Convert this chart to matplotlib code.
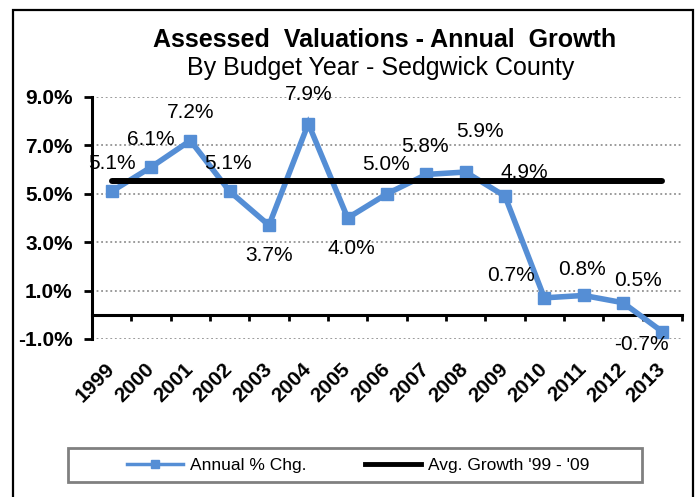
import matplotlib
matplotlib.use("Agg")
import matplotlib.pyplot as plt
from matplotlib.lines import Line2D
from matplotlib.patches import Rectangle

plt.rcParams["font.family"] = ["Liberation Sans", "DejaVu Sans"]

# ─── Data ─────────────────────────────────────────────────────────────────────
YEARS = ["1999", "2000", "2001", "2002", "2003", "2004", "2005", "2006",
         "2007", "2008", "2009", "2010", "2011", "2012", "2013"]
ANNUAL_CHG = [5.1, 6.1, 7.2, 5.1, 3.7, 7.9, 4.0, 5.0, 5.8, 5.9, 4.9, 0.7, 0.8, 0.5, -0.7]
AVG_GROWTH = 5.52   # average '99 - '09
YTICKS = [-1, 1, 3, 5, 7, 9]

# label offsets in points (dx, dy) to mimic Excel's placement
LABEL_OFFSETS = [(0, 20), (0, 20), (0, 20), (-1, 20), (0, -22), (0, 21), (3, -22),
                 (-1, 21), (-1, 20), (10, 29), (14, 17), (-24, 16), (-1, 19),
                 (11, 16), (-15, -9)]

BLUE = "#558ED5"

fig = plt.figure(figsize=(6.96, 4.97), dpi=100)
ax = fig.add_axes([92 / 696, (497 - 339) / 497, 590 / 696, 242 / 497])

x = list(range(len(YEARS)))
ax.plot(x, ANNUAL_CHG, color=BLUE, lw=4, marker="s", markersize=9,
        solid_joinstyle="miter", zorder=3)
ax.plot([x[0], x[-1]], [AVG_GROWTH, AVG_GROWTH], color="black", lw=4.3,
        solid_capstyle="round", zorder=4)

for xi, v, (dx, dy) in zip(x, ANNUAL_CHG, LABEL_OFFSETS):
    ax.annotate(f"{v:.1f}%", xy=(xi, v), xytext=(dx, dy), textcoords="offset points",
                ha="center", va="center", fontsize=15, zorder=5)

ax.set_xlim(-0.5, len(YEARS) - 0.5)
ax.set_ylim(-1, 9)
ax.set_yticks(YTICKS)
ax.set_yticklabels([f"{t:.1f}%" for t in YTICKS], fontsize=15, fontweight="bold")
ax.yaxis.grid(True, color="#808080", linestyle=(0, (1.2, 1.8)), lw=1.1)
ax.set_axisbelow(True)

for s in ["top", "right"]:
    ax.spines[s].set_visible(False)
ax.spines["left"].set_linewidth(2.2)
ax.spines["bottom"].set_position(("data", 0))
ax.spines["bottom"].set_linewidth(2.2)
ax.tick_params(axis="y", length=6, width=2, pad=8)

ax.set_xticks(x)
ax.set_xticks([i + 0.5 for i in x], minor=True)
ax.tick_params(axis="x", which="major", length=0, pad=37)
ax.tick_params(axis="x", which="minor", length=4.5, width=2, direction="out")
ax.set_xticklabels(YEARS, fontsize=15, fontweight="bold")
for lbl in ax.get_xticklabels():
    lbl.set_rotation(45)
    lbl.set_ha("right")
    lbl.set_va("center")
    lbl.set_rotation_mode("anchor")

# titles
fig.text(0.553, 1 - 47 / 497, "Assessed  Valuations - Annual  Growth", ha="center",
         va="baseline", fontsize=18, fontweight="bold")
fig.text(0.547, 1 - 75 / 497, "By Budget Year - Sedgwick County", ha="center",
         va="baseline", fontsize=18)

# legend with separate grey box
handles = [Line2D([], [], color=BLUE, lw=2.5, marker="s", markersize=6),
           Line2D([], [], color="black", lw=3.5)]
fig.legend(handles, ["Annual % Chg.", "Avg. Growth '99 - '09"], loc="center",
           bbox_to_anchor=(358 / 696, (497 - 465) / 497), ncol=2, frameon=False,
           fontsize=12.5, handlelength=3.2, handletextpad=0.4, columnspacing=3.4)
fig.patches.append(Rectangle((68 / 696, (497 - 482) / 497), 574 / 696, 34 / 497,
                             transform=fig.transFigure, fill=False,
                             edgecolor="#808080", lw=2))

# outer frame (bottom edge cut off)
fig.patches.append(Rectangle((13 / 696, -0.1), 680 / 696, (487 / 497) + 0.1,
                             transform=fig.transFigure, fill=False,
                             edgecolor="black", lw=1.6))

plt.savefig("out.png", dpi=100)
